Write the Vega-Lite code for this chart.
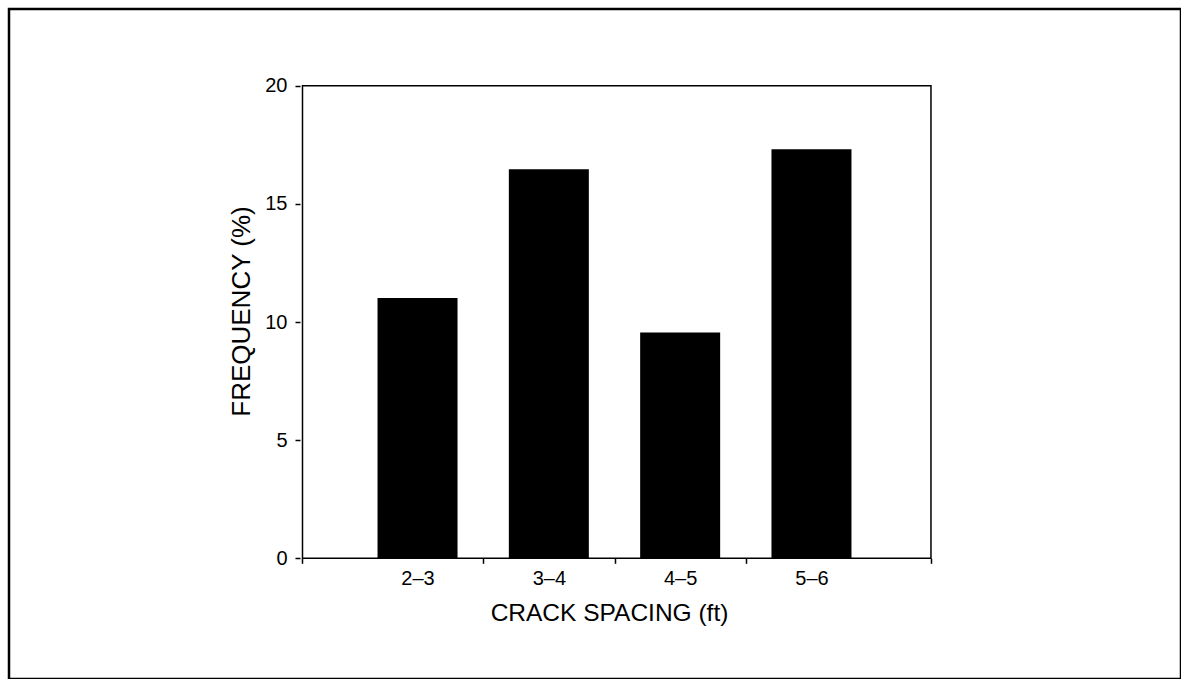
{
  "$schema": "https://vega.github.io/schema/vega-lite/v6.json",
  "width": 1172,
  "height": 670,
  "autosize": {"type": "none"},
  "padding": {"left": 9, "top": 9, "right": 0, "bottom": 0},
  "background": "white",
  "config": {
    "view": {"stroke": "#000", "strokeWidth": 2.5},
    "axis": {
      "grid": false,
      "domain": false,
      "labelFont": "Liberation Sans",
      "titleFont": "Liberation Sans",
      "labelColor": "#000",
      "titleColor": "#000",
      "tickColor": "#000",
      "titleFontWeight": "normal"
    }
  },
  "data": {
    "values": [
      {"spacing": "2–3", "mid": 2.5, "freq": 11.02},
      {"spacing": "3–4", "mid": 3.5, "freq": 16.46},
      {"spacing": "4–5", "mid": 4.5, "freq": 9.56},
      {"spacing": "5–6", "mid": 5.5, "freq": 17.31}
    ]
  },
  "layer": [
    {
      "mark": {"type": "bar", "size": 80, "color": "#000"},
      "encoding": {
        "x": {
          "field": "mid",
          "type": "quantitative",
          "scale": {"domain": [-0.573, 8.276], "nice": false, "zero": false},
          "axis": {
            "orient": "bottom",
            "offset": -120.7,
            "values": [1.624, 2.5, 3, 3.5, 4, 4.5, 5, 5.5, 6.41],
            "labelExpr": "datum.value==2.5?'2–3':datum.value==3.5?'3–4':datum.value==4.5?'4–5':datum.value==5.5?'5–6':''",
            "tickOpacity": {"condition": {"test": "datum.value==2.5||datum.value==3.5||datum.value==4.5||datum.value==5.5", "value": 0}, "value": 1},
            "tickSize": 5,
            "tickWidth": 1.5,
            "labelPadding": 5,
            "labelFontSize": 20,
            "labelFlush": false,
            "labelOverlap": false,
            "title": "CRACK SPACING (ft)",
            "titleFontSize": 24.5,
            "titleX": 600,
            "titleY": 62,
            "titleBaseline": "alphabetic",
            "titleAlign": "center"
          }
        },
        "y": {
          "field": "freq",
          "type": "quantitative",
          "scale": {"domain": [-5.108, 23.246], "nice": false, "zero": false},
          "axis": {
            "orient": "left",
            "offset": -291,
            "values": [0, 5, 10, 15, 20],
            "tickSize": 5,
            "tickWidth": 1.5,
            "labelPadding": 8,
            "labelFontSize": 20,
            "labelFlush": false,
            "title": "FREQUENCY (%)",
            "titleFontSize": 26,
            "titleAngle": 270,
            "titleX": -51,
            "titleY": 302,
            "titleBaseline": "alphabetic",
            "titleAlign": "center"
          }
        },
        "y2": {"datum": 0}
      }
    },
    {
      "data": {"values": [{}]},
      "mark": {"type": "rect", "filled": false, "stroke": "#000", "strokeWidth": 1.5},
      "encoding": {
        "x": {"datum": 1.624, "type": "quantitative"},
        "x2": {"datum": 6.41},
        "y": {"datum": 0, "type": "quantitative"},
        "y2": {"datum": 20}
      }
    }
  ]
}
